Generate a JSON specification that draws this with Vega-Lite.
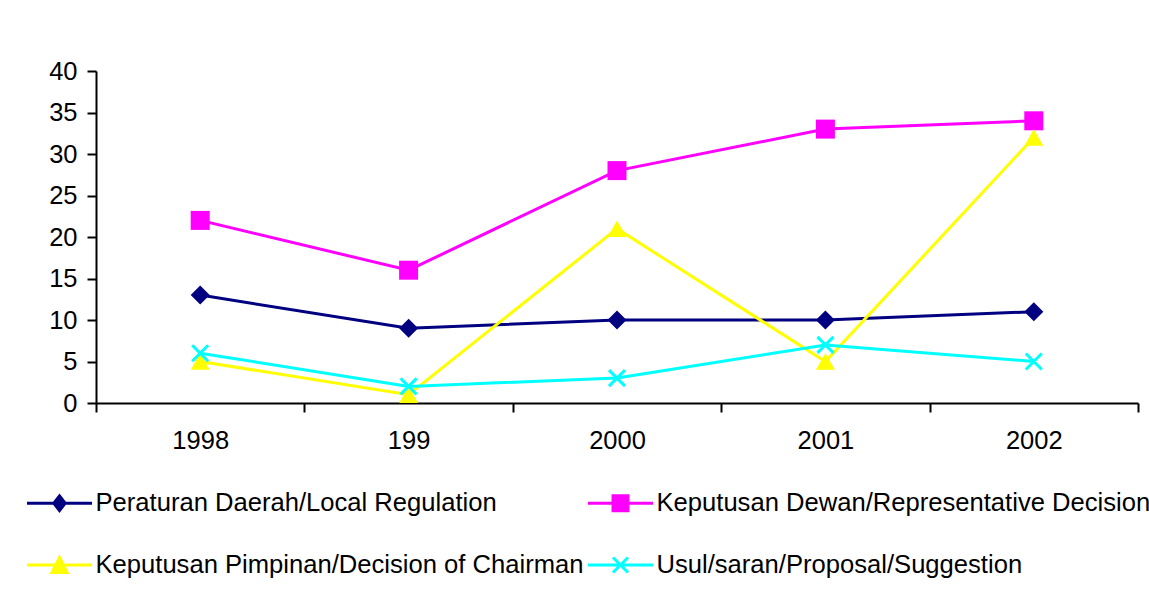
{
  "$schema": "https://vega.github.io/schema/vega-lite/v6.json",
  "width": 1042,
  "height": 332,
  "autosize": {"type": "none"},
  "padding": {"left": 96, "top": 71, "right": 11, "bottom": 204},
  "background": "white",
  "config": {
    "view": {"stroke": null},
    "font": "Liberation Sans",
    "axis": {
      "domainColor": "black",
      "domainWidth": 2,
      "tickColor": "black",
      "tickWidth": 2,
      "tickSize": 9,
      "labelFont": "Liberation Sans",
      "labelFontSize": 25.5,
      "labelColor": "black",
      "grid": false,
      "title": null
    },
    "legend": {
      "orient": "none",
      "direction": "horizontal",
      "legendX": -54.5,
      "legendY": 414,
      "columns": 2,
      "columnPadding": -2,
      "rowPadding": 30,
      "padding": 0,
      "symbolSize": 1056.25,
      "symbolStrokeWidth": 3,
      "labelOffset": 18,
      "labelFont": "Liberation Sans",
      "labelFontSize": 25.6,
      "labelColor": "black",
      "labelLimit": 2000
    }
  },
  "data": {
    "values": [
      {"year": "1998", "series": "Peraturan Daerah/Local Regulation", "value": 13},
      {"year": "199", "series": "Peraturan Daerah/Local Regulation", "value": 9},
      {"year": "2000", "series": "Peraturan Daerah/Local Regulation", "value": 10},
      {"year": "2001", "series": "Peraturan Daerah/Local Regulation", "value": 10},
      {"year": "2002", "series": "Peraturan Daerah/Local Regulation", "value": 11},
      {"year": "1998", "series": "Keputusan Dewan/Representative Decision", "value": 22},
      {"year": "199", "series": "Keputusan Dewan/Representative Decision", "value": 16},
      {"year": "2000", "series": "Keputusan Dewan/Representative Decision", "value": 28},
      {"year": "2001", "series": "Keputusan Dewan/Representative Decision", "value": 33},
      {"year": "2002", "series": "Keputusan Dewan/Representative Decision", "value": 34},
      {"year": "1998", "series": "Keputusan Pimpinan/Decision of Chairman", "value": 5},
      {"year": "199", "series": "Keputusan Pimpinan/Decision of Chairman", "value": 1},
      {"year": "2000", "series": "Keputusan Pimpinan/Decision of Chairman", "value": 21},
      {"year": "2001", "series": "Keputusan Pimpinan/Decision of Chairman", "value": 5},
      {"year": "2002", "series": "Keputusan Pimpinan/Decision of Chairman", "value": 32},
      {"year": "1998", "series": "Usul/saran/Proposal/Suggestion", "value": 6},
      {"year": "199", "series": "Usul/saran/Proposal/Suggestion", "value": 2},
      {"year": "2000", "series": "Usul/saran/Proposal/Suggestion", "value": 3},
      {"year": "2001", "series": "Usul/saran/Proposal/Suggestion", "value": 7},
      {"year": "2002", "series": "Usul/saran/Proposal/Suggestion", "value": 5}
    ]
  },
  "encoding": {
    "x": {
      "field": "year",
      "type": "nominal",
      "sort": ["1998", "199", "2000", "2001", "2002"],
      "bandPosition": 0.5,
      "scale": {"type": "band", "paddingInner": 0, "paddingOuter": 0},
      "axis": {"tickBand": "extent", "labelAngle": 0, "labelPadding": 16}
    },
    "y": {
      "field": "value",
      "type": "quantitative",
      "scale": {"domain": [0, 40], "nice": false},
      "axis": {"values": [0, 5, 10, 15, 20, 25, 30, 35, 40], "labelPadding": 10}
    },
    "color": {
      "field": "series",
      "type": "nominal",
      "scale": {
        "domain": ["Peraturan Daerah/Local Regulation", "Keputusan Dewan/Representative Decision", "Keputusan Pimpinan/Decision of Chairman", "Usul/saran/Proposal/Suggestion"],
        "range": ["#000080", "#FF00FF", "#FFFF00", "#00FFFF"]
      },
      "legend": {
        "title": null,
        "orient": "none",
        "direction": "horizontal",
        "encode": {
          "symbols": {
            "update": {
              "fill": {"scale": "color", "field": "value"},
              "stroke": {"scale": "color", "field": "value"},
              "opacity": {"value": 1},
              "strokeWidth": {"value": 3}
            }
          }
        }
      }
    }
  },
  "layer": [
    {"mark": {"type": "line", "strokeWidth": 3}},
    {
      "transform": [{"filter": "datum.series === 'Peraturan Daerah/Local Regulation'"}],
      "mark": {"type": "point", "shape": "diamond", "filled": true, "size": 361, "opacity": 1}
    },
    {
      "transform": [{"filter": "datum.series === 'Keputusan Dewan/Representative Decision'"}],
      "mark": {"type": "point", "shape": "square", "filled": true, "size": 361, "opacity": 1}
    },
    {
      "transform": [{"filter": "datum.series === 'Keputusan Pimpinan/Decision of Chairman'"}],
      "mark": {"type": "point", "shape": "triangle-up", "filled": true, "size": 361, "opacity": 1}
    },
    {
      "transform": [{"filter": "datum.series === 'Usul/saran/Proposal/Suggestion'"}],
      "mark": {"type": "point", "shape": "M-1,-1L1,1M-1,1L1,-1", "filled": false, "size": 256, "strokeWidth": 3, "opacity": 1}
    },
    {
      "transform": [{"filter": "false"}],
      "mark": {"type": "point", "filled": true, "opacity": 1},
      "encoding": {
        "shape": {
          "field": "series",
          "type": "nominal",
          "scale": {
            "domain": ["Peraturan Daerah/Local Regulation", "Keputusan Dewan/Representative Decision", "Keputusan Pimpinan/Decision of Chairman", "Usul/saran/Proposal/Suggestion"],
            "range": [
              "M-2,0H2M0,-0.45L0.35,0L0,0.45L-0.35,0Z",
              "M-2,0H2M-0.46,-0.46H0.46V0.46H-0.46Z",
              "M-2,0H2M0,-0.46L0.46,0.46L-0.46,0.46Z",
              "M-2,0H2M-0.46,-0.46L0.46,0.46M-0.46,0.46L0.46,-0.46"
            ]
          },
          "legend": {
            "title": null,
            "orient": "none",
            "direction": "horizontal",
            "encode": {
              "symbols": {
                "update": {
                  "fill": {"scale": "color", "field": "value"},
                  "stroke": {"scale": "color", "field": "value"},
                  "opacity": {"value": 1},
                  "strokeWidth": {"value": 3}
                }
              }
            }
          }
        }
      }
    }
  ]
}
